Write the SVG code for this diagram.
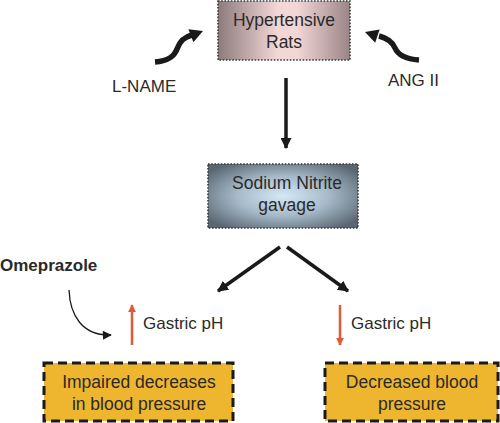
<svg xmlns="http://www.w3.org/2000/svg" width="500" height="423" viewBox="0 0 500 423">
<defs>
<linearGradient id="pink" x1="0" y1="0" x2="1" y2="0">
<stop offset="0" stop-color="#8c7b7d"/>
<stop offset="0.45" stop-color="#f3d6d6"/>
<stop offset="0.6" stop-color="#f3d6d6"/>
<stop offset="1" stop-color="#9a8587"/>
</linearGradient>
<radialGradient id="blue" cx="0.5" cy="0.5" r="0.62" fx="0.5" fy="0.5">
<stop offset="0" stop-color="#d4e8f6"/>
<stop offset="0.5" stop-color="#a6b9c8"/>
<stop offset="1" stop-color="#5a6772"/>
</radialGradient>
<marker id="ah" viewBox="0 0 10 10" refX="9" refY="5" markerWidth="11" markerHeight="11" markerUnits="userSpaceOnUse" orient="auto">
<path d="M0,0 L10,5 L0,10 z" fill="#1a1a1a"/>
</marker>
<marker id="ahr" viewBox="0 0 10 10" refX="9" refY="5" markerWidth="8" markerHeight="8" markerUnits="userSpaceOnUse" orient="auto">
<path d="M0,0 L10,5 L0,10 z" fill="#e05a35"/>
</marker>
<marker id="aht" viewBox="0 0 10 10" refX="9" refY="5" markerWidth="10" markerHeight="9" markerUnits="userSpaceOnUse" orient="auto">
<path d="M0,0 L10,5 L0,10 z" fill="#1a1a1a"/>
</marker>
</defs>
<style>
.t{font-family:"Liberation Sans",Arial,sans-serif;font-size:17.5px;fill:#2a2a2a;text-anchor:middle}
.l{font-family:"Liberation Sans",Arial,sans-serif;font-size:17px;fill:#2a2a2a}
.dot{stroke:#3a3a3a;stroke-width:1.6;stroke-dasharray:1.6 1.6}
.dash{fill:#eeb62f;stroke:#1a1a1a;stroke-width:3;stroke-dasharray:9 5}
.c{fill:none;stroke:#1a1a1a;stroke-width:3.5}
.thick{fill:none;stroke:#1a1a1a;stroke-width:5.5}
.red{fill:none;stroke:#e05a35;stroke-width:2.5}
</style>
<rect width="500" height="423" fill="#ffffff"/>
<g id="hypertensive-rats">
<rect x="218" y="1" width="132" height="59" fill="url(#pink)" class="dot"/>
<text class="t" x="284" y="26">Hypertensive</text>
<text class="t" x="284" y="48">Rats</text>
</g>
<g id="sodium-nitrite">
<rect x="208" y="164" width="150" height="64" fill="url(#blue)" class="dot"/>
<text class="t" x="287" y="189">Sodium Nitrite</text>
<text class="t" x="287" y="211">gavage</text>
</g>
<g id="impaired">
<rect class="dash" x="44" y="363" width="189" height="58"/>
<text class="t" x="139" y="388">Impaired decreases</text>
<text class="t" x="139" y="410">in blood pressure</text>
</g>
<g id="decreased">
<rect class="dash" x="325" y="363" width="173" height="58"/>
<text class="t" x="412" y="388">Decreased blood</text>
<text class="t" x="412" y="410">pressure</text>
</g>
<g id="labels">
<text class="l" x="112" y="92">L-NAME</text>
<text class="l" x="388" y="86">ANG II</text>
<text class="l" x="0" y="271" style="font-weight:bold">Omeprazole</text>
<text class="l" x="143" y="329">Gastric pH</text>
<text class="l" x="351" y="329">Gastric pH</text>
</g>
<g id="connectors">
<path class="thick" d="M155,62 C168,61 174,57 177,49 C180,41 184,37 192,35"/>
<polygon points="203,31 188.4,29.2 193.4,42.2" fill="#1a1a1a"/>
<path class="thick" d="M419,60 C406,59 398,55 395,48 C392,41 387,38 379,36"/>
<polygon points="365,32 379.6,29.5 375.2,42.7" fill="#1a1a1a"/>
<line class="c" x1="286" y1="78" x2="286" y2="148" stroke-width="3" marker-end="url(#ah)"/>
<line class="c" x1="280" y1="247" x2="218" y2="291" marker-end="url(#ah)"/>
<line class="c" x1="287" y1="247" x2="348" y2="291" marker-end="url(#ah)"/>
<path d="M69,290 C70,315 82,336 111,335" fill="none" stroke="#1a1a1a" stroke-width="1.3" marker-end="url(#aht)"/>
<line class="red" x1="132" y1="345" x2="132" y2="305" marker-end="url(#ahr)"/>
<line class="red" x1="340" y1="305" x2="340" y2="345" marker-end="url(#ahr)"/>
</g>
</svg>
